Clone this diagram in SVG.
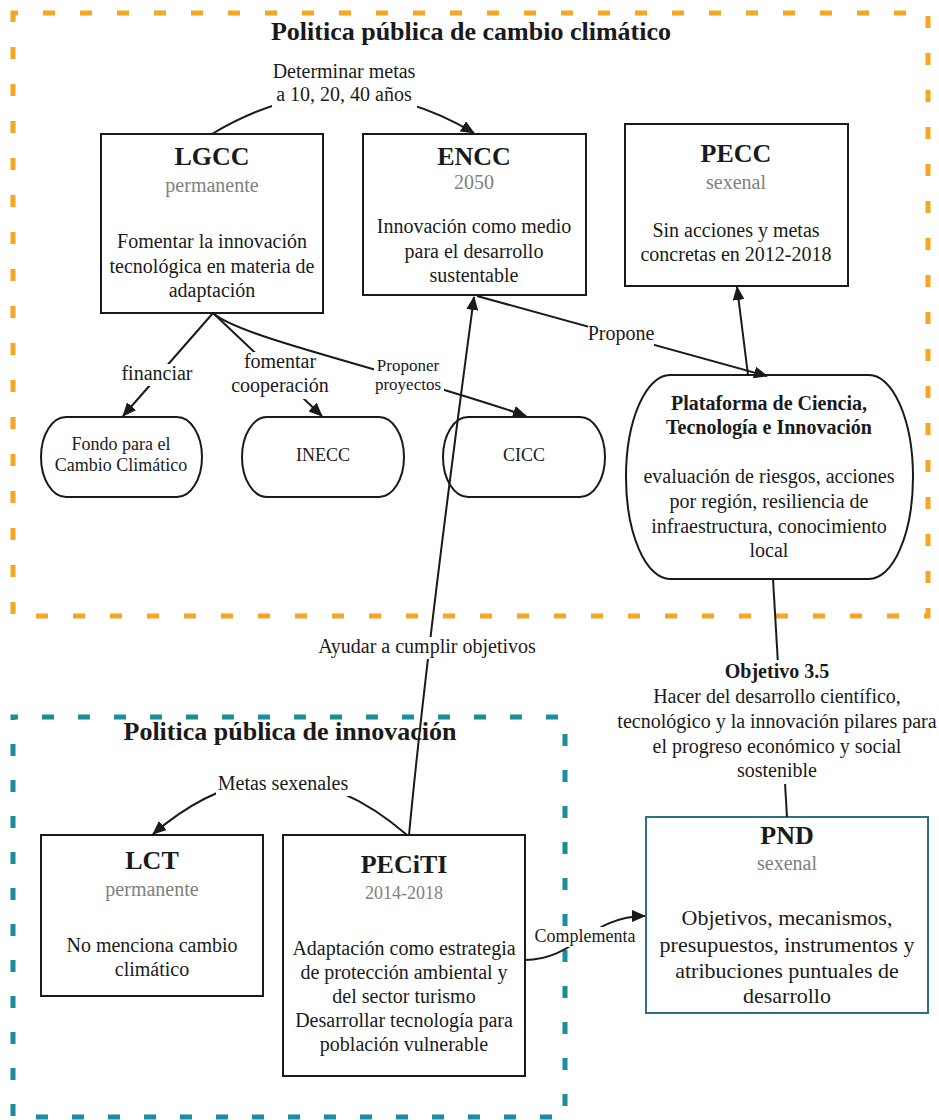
<svg xmlns="http://www.w3.org/2000/svg" width="939" height="1120" viewBox="0 0 939 1120">
<defs>
<style>
text{font-family:"Liberation Serif","Times New Roman",serif;fill:#1a1a1a;text-anchor:middle}
.ttl{font-size:26px;font-weight:bold}
.sub{font-size:20px;fill:#808080}
.b20{font-size:20px}
.b18{font-size:18px}
.b17{font-size:17px}
.bold{font-weight:bold}
.node{fill:#fff;stroke:#1a1a1a;stroke-width:2}
.edge{fill:none;stroke:#1a1a1a;stroke-width:2}
.bg{fill:#fff}
.frameO{fill:none;stroke:#F5A623;stroke-width:5;stroke-dasharray:12 25;stroke-dashoffset:7}
.frameT{fill:none;stroke:#1A8E9B;stroke-width:5;stroke-dasharray:12 24;stroke-dashoffset:7}
</style>
<marker id="arr" markerUnits="userSpaceOnUse" markerWidth="14" markerHeight="12" refX="13" refY="6" orient="auto"><path d="M0,0 L14,6 L0,12 z" fill="#1a1a1a"/></marker>
</defs>
<rect width="939" height="1120" fill="#fff"/>

<g id="frame-clima">
<rect class="frameO" x="13" y="13" width="915" height="603"/>
<text class="ttl" x="471" y="40">Politica pública de cambio climático</text>
</g>
<g id="frame-innovacion">
<rect class="frameT" x="13" y="717" width="552" height="400"/>
<text class="ttl" x="290" y="740">Politica pública de innovación</text>
</g>

<g id="LGCC">
<rect class="node" x="101" y="134" width="222" height="179"/>
<text class="ttl" x="212" y="165">LGCC</text>
<text class="sub" x="212" y="192">permanente</text>
<text class="b20" x="212" y="248">Fomentar la innovación</text>
<text class="b20" x="212" y="273">tecnológica en materia de</text>
<text class="b20" x="212" y="297">adaptación</text>
</g>
<g id="ENCC">
<rect class="node" x="363" y="134" width="223" height="161"/>
<text class="ttl" x="474" y="165">ENCC</text>
<text class="sub" x="474" y="189">2050</text>
<text class="b20" x="474" y="233">Innovación como medio</text>
<text class="b20" x="474" y="258">para el desarrollo</text>
<text class="b20" x="474" y="282">sustentable</text>
</g>
<g id="PECC">
<rect class="node" x="625" y="124" width="223" height="162"/>
<text class="ttl" x="736" y="162">PECC</text>
<text class="sub" x="736" y="189">sexenal</text>
<text class="b20" x="736" y="237">Sin acciones y metas</text>
<text class="b20" x="736" y="261">concretas en 2012-2018</text>
</g>
<g id="Fondo">
<rect class="node" x="41" y="417" width="161" height="80" rx="25" ry="40"/>
<text class="b18" x="121" y="450">Fondo para el</text>
<text class="b18" x="121" y="471">Cambio Climático</text>
</g>
<g id="INECC">
<rect class="node" x="242" y="417" width="162" height="80" rx="25" ry="40"/>
<text class="b18" x="323" y="461">INECC</text>
</g>
<g id="CICC">
<rect class="node" x="443" y="417" width="162" height="80" rx="25" ry="40"/>
<text class="b18" x="524" y="461">CICC</text>
</g>
<g id="Plataforma">
<rect class="node" x="626" y="375" width="287" height="204" rx="44" ry="102"/>
<text class="b20 bold" x="769" y="410">Plataforma de Ciencia,</text>
<text class="b20 bold" x="769" y="434">Tecnología e Innovación</text>
<text class="b20" x="769" y="483">evaluación de riesgos, acciones</text>
<text class="b20" x="769" y="508">por región, resiliencia de</text>
<text class="b20" x="769" y="533">infraestructura, conocimiento</text>
<text class="b20" x="769" y="557">local</text>
</g>
<g id="LCT">
<rect class="node" x="41" y="835" width="222" height="161"/>
<text class="ttl" x="152" y="869">LCT</text>
<text class="sub" x="152" y="896">permanente</text>
<text class="b20" x="152" y="952">No menciona cambio</text>
<text class="b20" x="152" y="976">climático</text>
</g>
<g id="PECiTI">
<rect class="node" x="283" y="835" width="242" height="241"/>
<text class="ttl" x="404" y="873">PECiTI</text>
<text class="b18" x="404" y="899" style="fill:#808080">2014-2018</text>
<text class="b20" x="404" y="955">Adaptación como estrategia</text>
<text class="b20" x="404" y="979">de protección ambiental y</text>
<text class="b20" x="404" y="1003">del sector turismo</text>
<text class="b20" x="404" y="1027">Desarrollar tecnología para</text>
<text class="b20" x="404" y="1051">población vulnerable</text>
</g>
<g id="PND">
<rect x="646" y="817" width="282" height="196" fill="#fff" stroke="#2D6E88" stroke-width="2"/>
<text class="ttl" x="787" y="844">PND</text>
<text class="sub" x="787" y="870">sexenal</text>
<text x="787" y="925" style="font-size:22px">Objetivos, mecanismos,</text>
<text x="787" y="952" style="font-size:22px">presupuestos, instrumentos y</text>
<text x="787" y="978" style="font-size:22px">atribuciones puntuales de</text>
<text x="787" y="1003" style="font-size:22px">desarrollo</text>
</g>

<g id="connectors">
<path class="edge" d="M212,134 Q343,55 474,133" marker-end="url(#arr)"/>
<rect class="bg" x="272" y="62" width="145" height="46"/>
<text class="b20" x="344" y="78">Determinar metas</text>
<text class="b20" x="344" y="101">a 10, 20, 40 años</text>

<path class="edge" d="M213,313 L123,416" marker-end="url(#arr)"/>
<rect class="bg" x="124" y="364" width="68" height="22"/>
<text class="b20" x="157" y="380">financiar</text>

<path class="edge" d="M213,313 L322,416" marker-end="url(#arr)"/>
<rect class="bg" x="230" y="352" width="100" height="47"/>
<text class="b20" x="280" y="368">fomentar</text>
<text class="b20" x="280" y="392">cooperación</text>

<path class="edge" d="M213,313 C240,338 400,372 526,416" marker-end="url(#arr)"/>
<rect class="bg" x="374" y="358" width="70" height="38"/>
<text class="b17" x="408" y="371">Proponer</text>
<text class="b17" x="408" y="390">proyectos</text>

<path class="edge" d="M409,835 C418,740 440,550 474,297" marker-end="url(#arr)"/>
<rect class="bg" x="317" y="637" width="221" height="22"/>
<text class="b20" x="427" y="653">Ayudar a cumplir objetivos</text>

<path class="edge" d="M477,296 L767,376" marker-end="url(#arr)"/>
<rect class="bg" x="588" y="324" width="66" height="22"/>
<text class="b20" x="621" y="340">Propone</text>

<path class="edge" d="M748,375 L737,287" marker-end="url(#arr)"/>

<path class="edge" d="M773,579 L787,817"/>
<rect class="bg" x="614" y="660" width="326" height="124"/>
<text class="b20 bold" x="777" y="678">Objetivo 3.5</text>
<text class="b20" x="777" y="703">Hacer del desarrollo científico,</text>
<text class="b20" x="777" y="728">tecnológico y la innovación pilares para</text>
<text class="b20" x="777" y="753">el progreso económico y social</text>
<text class="b20" x="777" y="777">sostenible</text>

<path class="edge" d="M407,835 Q280,725 153,834" marker-end="url(#arr)"/>
<rect class="bg" x="216" y="774" width="134" height="22"/>
<text class="b20" x="283" y="790">Metas sexenales</text>

<path class="edge" d="M525,960 C575,960 590,916 645,916" marker-end="url(#arr)"/>
<rect class="bg" x="535" y="927" width="101" height="20"/>
<text class="b18" x="585" y="942">Complementa</text>
</g>
</svg>
